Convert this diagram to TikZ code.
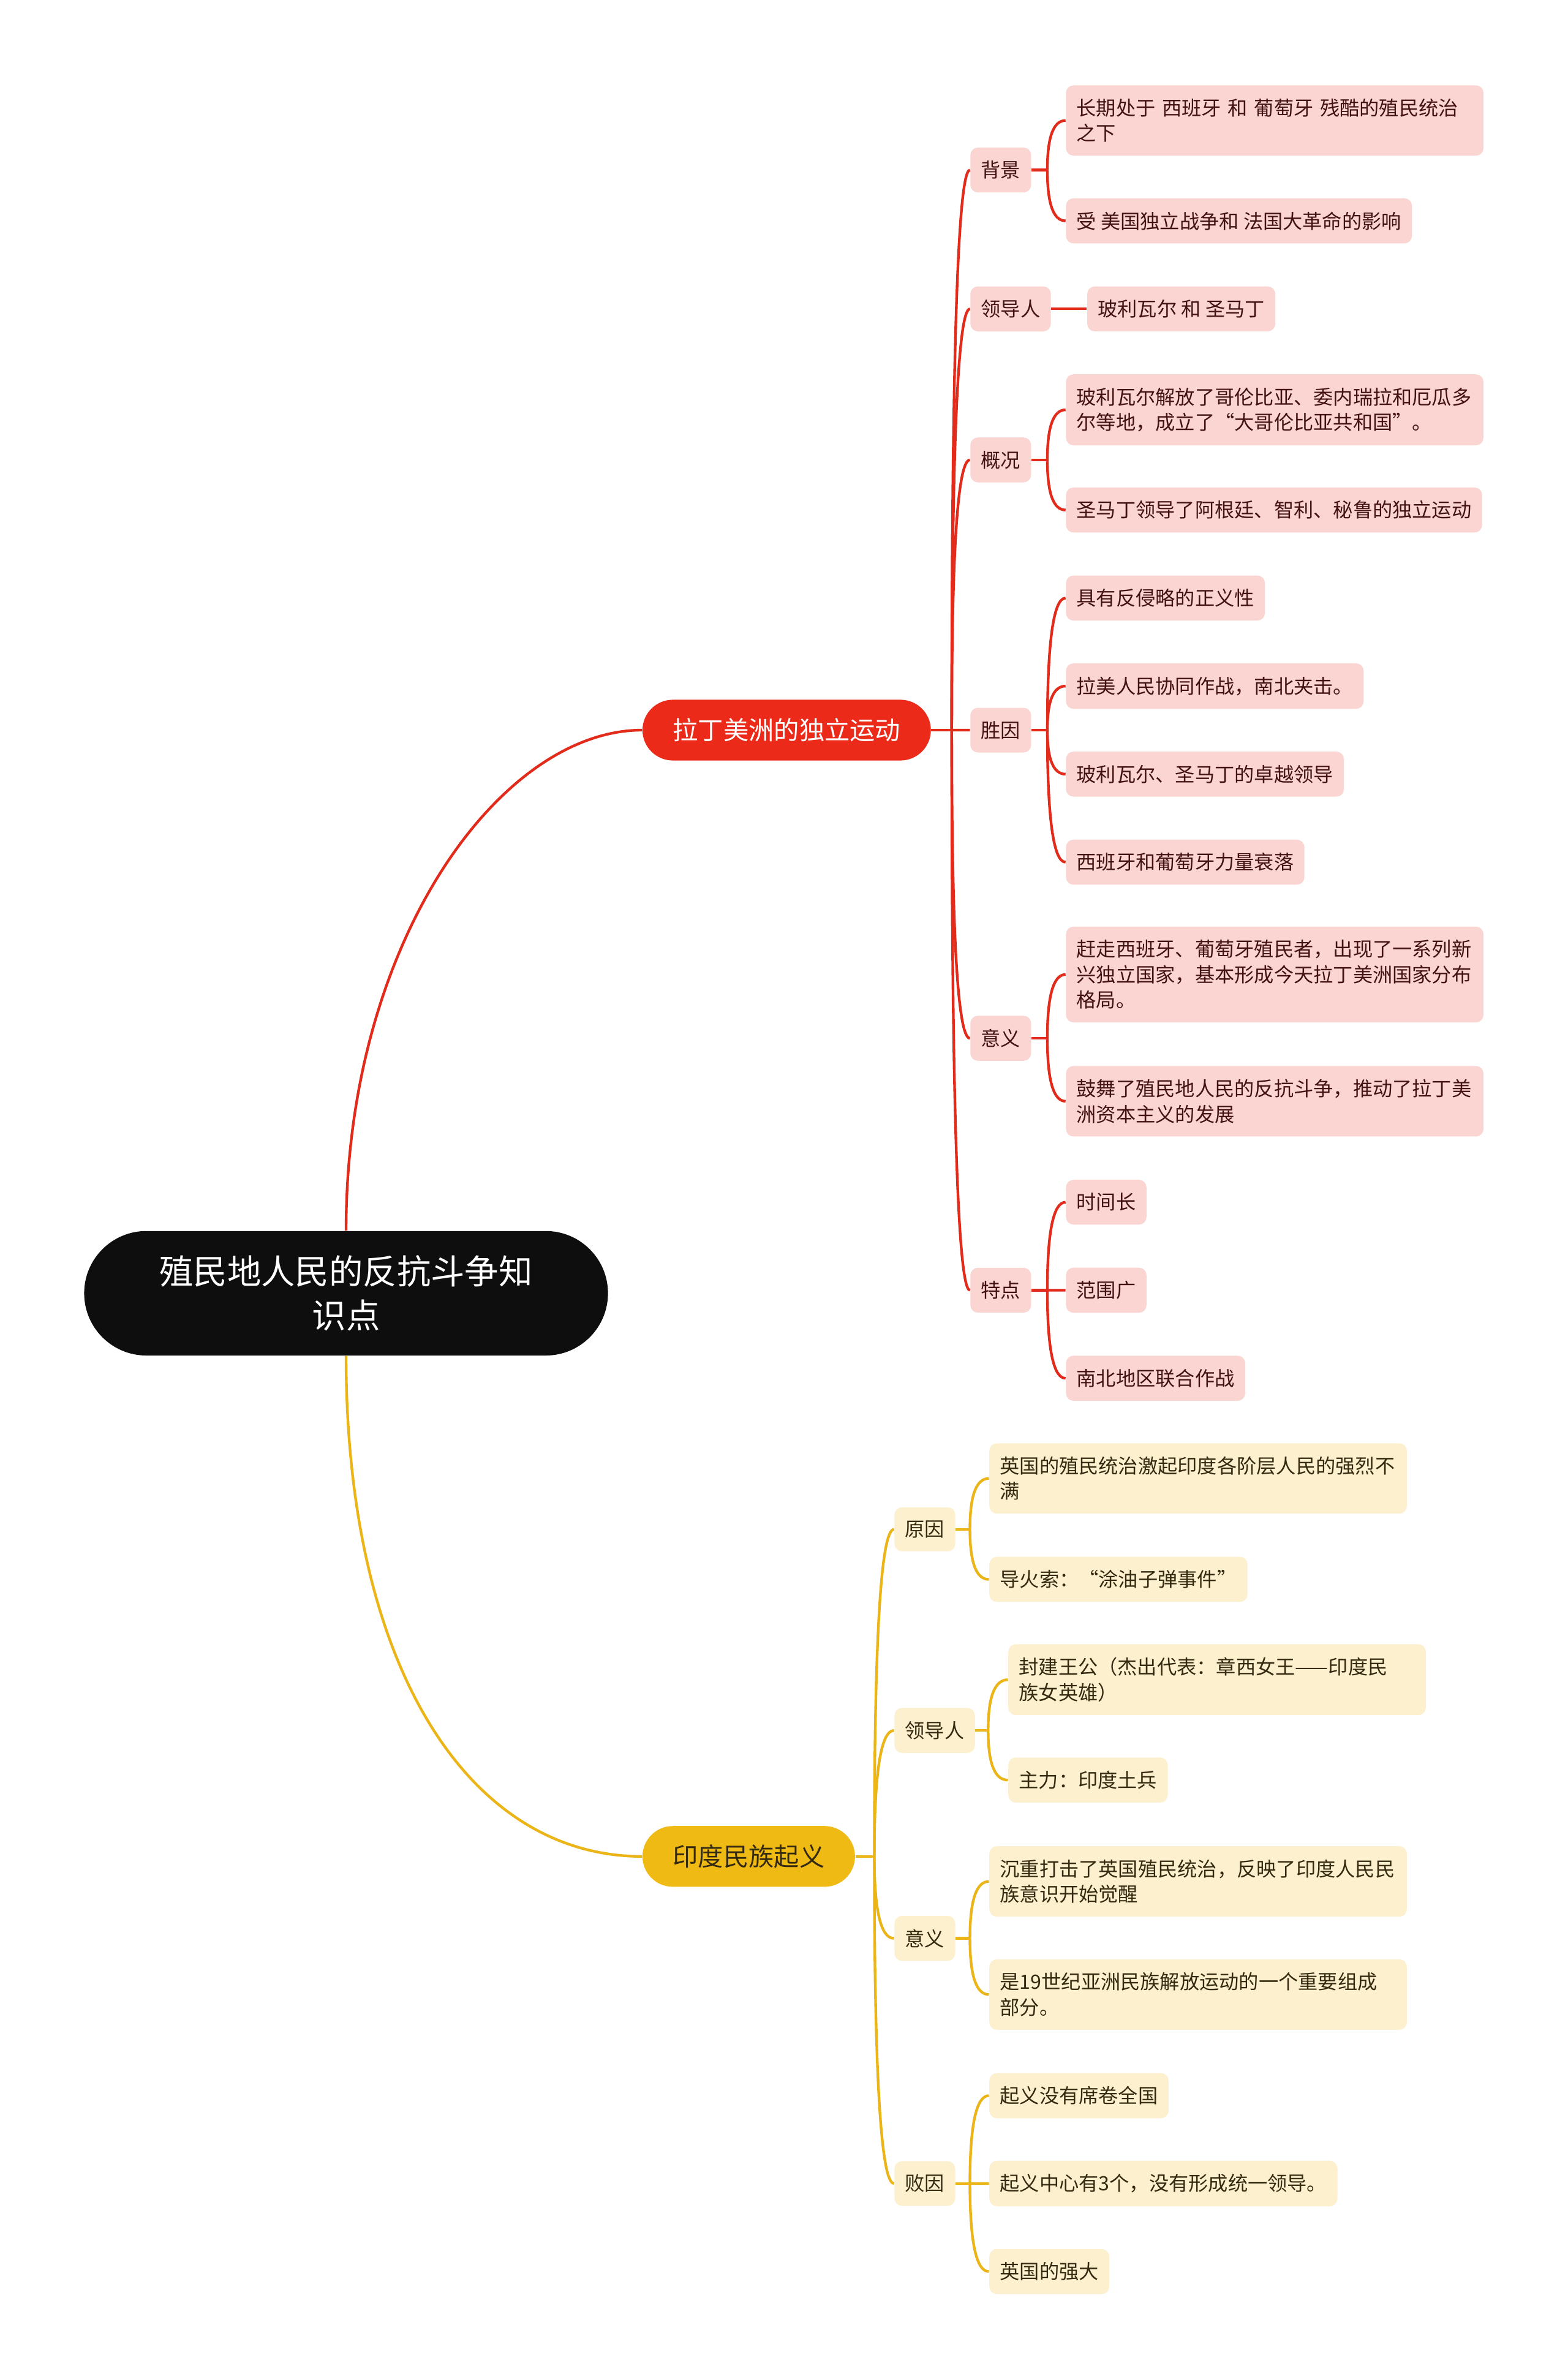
\documentclass[tikz,border=0pt]{standalone}
\usepackage{fontspec}
\setmainfont{Noto Sans CJK SC}
\usetikzlibrary{calc}

\definecolor{rootblack}{HTML}{0E0E0E}
\definecolor{brred}{HTML}{EC2A19}
\definecolor{linered}{HTML}{E32B1C}
\definecolor{pinkfill}{HTML}{FBD5D1}
\definecolor{redtext}{HTML}{431212}
\definecolor{bryel}{HTML}{F0BA14}
\definecolor{lineyel}{HTML}{EBB517}
\definecolor{creamfill}{HTML}{FDF0CF}
\definecolor{yeltext}{HTML}{332A10}

\tikzset{
  rootnode/.style={fill=rootblack, text=white, rounded corners=1.025cm, minimum width=8.625cm,
    minimum height=2.05cm, align=center, font=\fontsize{15.9pt}{20.8pt}\selectfont},
  mainbr/.style={anchor=west, rounded corners=0.5cm, minimum height=1cm, inner xsep=0.5cm,
    font=\fontsize{11.85pt}{14pt}\selectfont},
  topic/.style={anchor=west, rounded corners=0.125cm, inner xsep=0.175cm, inner ysep=0.22cm,
    minimum height=0.725cm, align=left, font=\fontsize{9.25pt}{11.9pt}\selectfont},
  lbox/.style={topic, fill=pinkfill, text=redtext},
  ibox/.style={topic, fill=creamfill, text=yeltext},
  wide/.style={text width=6.525cm},
  redline/.style={draw=linered, line width=1.25pt},
  yelline/.style={draw=lineyel, line width=1.25pt},
  twig/.style={to path={.. controls ($(\tikztostart)!0.667!(\tikztostart|-\tikztotarget)$)
    and ($(\tikztotarget)!0.667!(\tikztostart|-\tikztotarget)$) .. (\tikztotarget)}}
}

\begin{document}
\begin{tikzpicture}[x=0.025cm,y=-0.025cm]
  \fill[white] (0,0) rectangle (1033,1567.3);
  \useasboundingbox (0,0) rectangle (1033,1567.3);

  \node[rootnode] (root) at (228,852) {殖民地人民的反抗斗争知\\识点};
  \node[mainbr, fill=brred, text=white] (lat) at (423,481) {拉丁美洲的独立运动};
  \node[mainbr, fill=bryel, text=yeltext] (ind) at (423,1223) {印度民族起义};
  \draw[redline] (root.north) .. controls +(0,-191) and +(-93,0) .. (lat.west);
  \draw[yelline] (root.south) .. controls +(0,207) and +(-113,0) .. (ind.west);

  % latin america
  \coordinate (latj) at (627,481);
  \draw[redline] (lat.east) -- (latj);
  \node[lbox] (lbg) at (639,112) {背景};
  \node[lbox] (lld) at (639,203.5) {领导人};
  \node[lbox] (lgk) at (639,303) {概况};
  \node[lbox] (lsy) at (639,481) {胜因};
  \node[lbox] (lyy) at (639,684) {意义};
  \node[lbox] (ltd) at (639,850) {特点};
  \foreach \n in {lbg,lld,lgk,lsy,lyy,ltd} \draw[redline] (latj) to[twig] (\n.west);

  \node[lbox, wide] (lbg1) at (702,79.4) {长期处于 西班牙 和 葡萄牙 残酷的殖民统治\\之下};
  \node[lbox] (lbg2) at (702,145.5) {受 美国独立战争和 法国大革命的影响};
  \coordinate (lbgj) at (690,112);
  \draw[redline] (lbg.east) -- (lbgj);
  \foreach \n in {lbg1,lbg2} \draw[redline] (lbgj) to[twig] (\n.west);

  \node[lbox] (lld1) at (716,203.5) {玻利瓦尔 和 圣马丁};
  \draw[redline] (lld.east) -- (lld1.west);

  \node[lbox, wide] (lgk1) at (702,270) {玻利瓦尔解放了哥伦比亚、委内瑞拉和厄瓜多\\尔等地，成立了“大哥伦比亚共和国”。};
  \node[lbox] (lgk2) at (702,336) {圣马丁领导了阿根廷、智利、秘鲁的独立运动};
  \coordinate (lgkj) at (690,303);
  \draw[redline] (lgk.east) -- (lgkj);
  \foreach \n in {lgk1,lgk2} \draw[redline] (lgkj) to[twig] (\n.west);

  \node[lbox] (lsy1) at (702,394) {具有反侵略的正义性};
  \node[lbox] (lsy2) at (702,452) {拉美人民协同作战，南北夹击。};
  \node[lbox] (lsy3) at (702,510) {玻利瓦尔、圣马丁的卓越领导};
  \node[lbox] (lsy4) at (702,568) {西班牙和葡萄牙力量衰落};
  \coordinate (lsyj) at (690,481);
  \draw[redline] (lsy.east) -- (lsyj);
  \foreach \n in {lsy1,lsy2,lsy3,lsy4} \draw[redline] (lsyj) to[twig] (\n.west);

  \node[lbox, wide] (lyy1) at (702,642) {赶走西班牙、葡萄牙殖民者，出现了一系列新\\兴独立国家，基本形成今天拉丁美洲国家分布\\格局。};
  \node[lbox, wide] (lyy2) at (702,725.5) {鼓舞了殖民地人民的反抗斗争，推动了拉丁美\\洲资本主义的发展};
  \coordinate (lyyj) at (690,684);
  \draw[redline] (lyy.east) -- (lyyj);
  \foreach \n in {lyy1,lyy2} \draw[redline] (lyyj) to[twig] (\n.west);

  \node[lbox] (ltd1) at (702,792) {时间长};
  \node[lbox] (ltd2) at (702,850) {范围广};
  \node[lbox] (ltd3) at (702,908) {南北地区联合作战};
  \coordinate (ltdj) at (690,850);
  \draw[redline] (ltd.east) -- (ltdj);
  \foreach \n in {ltd1,ltd2,ltd3} \draw[redline] (ltdj) to[twig] (\n.west);

  % india
  \coordinate (indj) at (576,1223);
  \draw[yelline] (ind.east) -- (indj);
  \node[ibox] (iyy) at (589,1007.5) {原因};
  \node[ibox] (ild) at (589,1140) {领导人};
  \node[ibox] (iyi) at (589,1277) {意义};
  \node[ibox] (iby) at (589,1438.5) {败因};
  \foreach \n in {iyy,ild,iyi,iby} \draw[yelline] (indj) to[twig] (\n.west);

  \node[ibox, wide] (iyy1) at (651.5,974) {英国的殖民统治激起印度各阶层人民的强烈不\\满};
  \node[ibox] (iyy2) at (651.5,1040.5) {导火索：“涂油子弹事件”};
  \coordinate (iyyj) at (639,1007.5);
  \draw[yelline] (iyy.east) -- (iyyj);
  \foreach \n in {iyy1,iyy2} \draw[yelline] (iyyj) to[twig] (\n.west);

  \node[ibox, wide] (ild1) at (664,1106.6) {封建王公（杰出代表：章西女王——印度民\\族女英雄）};
  \node[ibox] (ild2) at (664,1172.7) {主力：印度土兵};
  \coordinate (ildj) at (651,1140);
  \draw[yelline] (ild.east) -- (ildj);
  \foreach \n in {ild1,ild2} \draw[yelline] (ildj) to[twig] (\n.west);

  \node[ibox, wide] (iyi1) at (651.5,1239.5) {沉重打击了英国殖民统治，反映了印度人民民\\族意识开始觉醒};
  \node[ibox, wide] (iyi2) at (651.5,1314) {是19世纪亚洲民族解放运动的一个重要组成\\部分。};
  \coordinate (iyij) at (639,1277);
  \draw[yelline] (iyi.east) -- (iyij);
  \foreach \n in {iyi1,iyi2} \draw[yelline] (iyij) to[twig] (\n.west);

  \node[ibox] (iby1) at (651.5,1380.6) {起义没有席卷全国};
  \node[ibox] (iby2) at (651.5,1438.5) {起义中心有3个，没有形成统一领导。};
  \node[ibox] (iby3) at (651.5,1496.5) {英国的强大};
  \coordinate (ibyj) at (639,1438.5);
  \draw[yelline] (iby.east) -- (ibyj);
  \foreach \n in {iby1,iby2,iby3} \draw[yelline] (ibyj) to[twig] (\n.west);
\end{tikzpicture}
\end{document}
